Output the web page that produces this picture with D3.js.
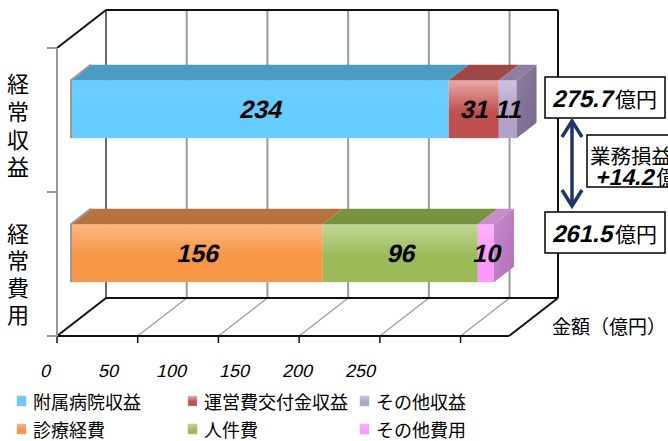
<!DOCTYPE html>
<html>
<head>
<meta charset="utf-8">
<script src="https://cdn.jsdelivr.net/npm/d3@7"></script>
<style>
  html, body { margin: 0; padding: 0; background: #fff; }
  svg { display: block; }
</style>
</head>
<body>
<svg id="chart" width="668" height="441"></svg>
<script>
// ---- data ----
const categories = ["経常収益", "経常費用"];
const revenueSeries = ["附属病院収益", "運営費交付金収益", "その他収益"];
const revenueValues = [234, 31, 11];
const expenseSeries = ["診療経費", "人件費", "その他費用"];
const expenseValues = [156, 96, 10];
const tickValues = [0, 50, 100, 150, 200, 250];
const axisMax = 280;
const totalLabels = ["275.7", "261.5"];
const profitLabel = "+14.2";

// ---- styles ----
const revenuePalette = [
  { light: "#6ACDFF", base: "#66CCFF", top: "#4C9BC3", side: "#3F84A8" },
  { light: "#E9AAA9", base: "#C0504D", top: "#9C4846", side: "#8A3A38" },
  { light: "#CFC2E2", base: "#B3A2C7", top: "#8D7EA2", side: "#76688C" }
];
const expensePalette = [
  { light: "#FBB884", base: "#F79646", top: "#B7733D", side: "#9A5E30" },
  { light: "#C2D897", base: "#9BBB59", top: "#78933F", side: "#627A32" },
  { light: "#FFB3FF", base: "#FF99FF", top: "#C88CCD", side: "#B06EB6" }
];
const numFont = "'Liberation Sans', Arial, sans-serif";
const jpFont = "'Noto Sans CJK JP', 'Noto Sans', sans-serif";

const svg = d3.select("#chart");
const defs = svg.append("defs");

// slanted numeric text (sheared so the slant is always present)
function slanted(parent, px, py, str, size, bold, anchor) {
  return parent.append("text")
    .attr("transform", `translate(${px},${py}) skewX(-13)`)
    .attr("text-anchor", anchor || "middle")
    .attr("font-family", numFont).attr("font-weight", bold ? "bold" : "normal")
    .attr("font-size", size).attr("fill", "#000").text(str);
}

// front plane scales; depth projects up-right
const x = d3.scaleLinear().domain([0, axisMax]).range([57, 509]);
const y = d3.scaleBand().domain(categories).range([48, 336]);
const tickLabelX = d3.scaleLinear().domain([0, 250]).range([45, 360]);
const DX = 49, DY = -38;
const floorY = y.range()[1];
const topY = y.range()[0];
const P = (v, yy, d) => [x(v) + DX * d, yy + DY * d];
const barH = 58;
const d0 = 0.286, d1 = 0.694;

// ---- back wall ----
const wall = svg.append("g");
tickValues.forEach(t => {
  const a = P(t, topY, 1), b = P(t, floorY, 1);
  wall.append("line").attr("x1", a[0]).attr("y1", a[1]).attr("x2", b[0]).attr("y2", b[1])
    .attr("stroke", t === 0 ? "#6a6a6a" : "#9a9a9a").attr("stroke-width", 2);
});
// floor diagonals
tickValues.forEach(t => {
  const a = P(t, floorY, 0), b = P(t, floorY, 1);
  wall.append("line").attr("x1", a[0]).attr("y1", a[1]).attr("x2", b[0]).attr("y2", b[1])
    .attr("stroke", t === 0 ? "#111" : "#a0a0a0").attr("stroke-width", t === 0 ? 2 : 1.5);
  // front tick marks
  wall.append("line").attr("x1", a[0]).attr("y1", a[1]).attr("x2", a[0]).attr("y2", a[1] + 7)
    .attr("stroke", "#111").attr("stroke-width", 1.5);
});
// frame edges
const edges = [
  [P(0, topY, 0), P(0, topY, 1)],
  [P(0, topY, 1), P(axisMax, topY, 1)],
  [P(axisMax, topY, 1), P(axisMax, floorY, 1)],
  [P(0, floorY, 1), P(axisMax, floorY, 1)],
  [P(0, floorY, 0), P(axisMax, floorY, 0)],
  [P(axisMax, floorY, 0), P(axisMax, floorY, 1)]
];
edges.forEach(([a, b]) => {
  wall.append("line").attr("x1", a[0]).attr("y1", a[1]).attr("x2", b[0]).attr("y2", b[1])
    .attr("stroke", "#111").attr("stroke-width", 2);
});
// left category axis
wall.append("line").attr("x1", x(0)).attr("y1", topY).attr("x2", x(0)).attr("y2", floorY)
  .attr("stroke", "#999").attr("stroke-width", 2);
[topY, topY + y.bandwidth(), floorY].forEach(t => {
  wall.append("line").attr("x1", x(0) - 10).attr("y1", t).attr("x2", x(0)).attr("y2", t)
    .attr("stroke", "#999").attr("stroke-width", 2);
});

// ---- gradients ----
function grad(id, c1, c2) {
  const g = defs.append("linearGradient").attr("id", id)
    .attr("x1", 0).attr("y1", 0).attr("x2", 0).attr("y2", 1);
  g.append("stop").attr("offset", "0%").attr("stop-color", c1);
  g.append("stop").attr("offset", "55%").attr("stop-color", c2);
  g.append("stop").attr("offset", "100%").attr("stop-color", c2);
}
function sideGrad(id, c1, c2) {
  const g = defs.append("linearGradient").attr("id", id)
    .attr("x1", 0).attr("y1", 0).attr("x2", 1).attr("y2", 1);
  g.append("stop").attr("offset", "0%").attr("stop-color", c1);
  g.append("stop").attr("offset", "100%").attr("stop-color", c2);
}

// ---- bars ----
function drawBar(cat, values, palette, key) {
  const yt = y(cat) + (y.bandwidth() - barH) / 2;
  const g = svg.append("g");
  let acc = 0;
  const segs = values.map((v, i) => { const s = { v, x0: acc, x1: acc + v, i }; acc += v; return s; });
  segs.forEach(s => {
    const c = palette[s.i];
    grad(`f-${key}-${s.i}`, c.light, c.base);
    const a = P(s.x0, yt, d0), b = P(s.x1, yt, d0);
    g.append("rect").attr("x", a[0]).attr("y", a[1]).attr("width", b[0] - a[0]).attr("height", barH)
      .attr("fill", `url(#f-${key}-${s.i})`);
    const pts = [P(s.x0, yt, d0), P(s.x1, yt, d0), P(s.x1, yt, d1), P(s.x0, yt, d1)];
    g.append("polygon").attr("points", pts.map(p => p.join(",")).join(" ")).attr("fill", c.top);
  });
  // right side face of the last segment
  const last = segs[segs.length - 1];
  const c = palette[last.i];
  sideGrad(`s-${key}`, c.top, c.side);
  const side = [P(last.x1, yt, d0), P(last.x1, yt, d1), P(last.x1, yt + barH, d1), P(last.x1, yt + barH, d0)];
  g.append("polygon").attr("points", side.map(p => p.join(",")).join(" ")).attr("fill", `url(#s-${key})`);
  // soft left edge shade
  const l0 = P(0, yt, d0), l1 = P(0, yt, d1);
  g.append("path").attr("d", `M${l0[0]},${l0[1] + barH} L${l0[0]},${l0[1]} L${l1[0]},${l1[1]}`)
    .attr("fill", "none").attr("stroke", "#9a9a9a").attr("stroke-width", 2);
  // value labels centred on front faces
  segs.forEach(s => {
    const a = P((s.x0 + s.x1) / 2, yt, d0);
    slanted(g, a[0], a[1] + barH / 2 + 9, s.v, 25, true);
  });
}
drawBar(categories[0], revenueValues, revenuePalette, "r");
drawBar(categories[1], expenseValues, expensePalette, "e");

// ---- axis tick labels ----
const tickG = svg.append("g");
tickValues.forEach(t => slanted(tickG, tickLabelX(t), 377, t, 18, false));

// ---- category labels (vertical) ----
const catLabelY = [[82, 110, 138, 165], [232, 259, 286, 313]];
categories.forEach((c, ci) => {
  Array.from(c).forEach((ch, k) => {
    svg.append("text").attr("x", 18).attr("y", catLabelY[ci][k])
      .attr("text-anchor", "middle").attr("dominant-baseline", "central")
      .attr("font-family", jpFont).attr("font-size", 22).attr("fill", "#000").text(ch);
  });
});

// ---- unit label ----
svg.append("text").attr("x", 552).attr("y", 325).attr("dominant-baseline", "central")
  .attr("font-family", jpFont).attr("font-size", 19)
  .attr("fill", "#000").text("金額（億円）");

// ---- totals and profit annotation ----
function numberWithUnit(px, py, label, numSize, unitSize) {
  const t = slanted(svg, px, py, label, numSize, true, "start");
  const w = t.node().getComputedTextLength();
  svg.append("text").attr("x", px + w + 3).attr("y", py)
    .attr("font-family", jpFont).attr("font-size", unitSize).attr("fill", "#000").text("億円");
}
function totalBox(yTop, label) {
  svg.append("rect").attr("x", 545).attr("y", yTop).attr("width", 120).attr("height", 41)
    .attr("fill", "#fff").attr("stroke", "#000").attr("stroke-width", 1.5);
  numberWithUnit(552, yTop + 30, label, 24, 21);
}
totalBox(77, totalLabels[0]);
totalBox(212, totalLabels[1]);

// double-headed arrow
const navy = "#1F3468";
const ax = 572, ay0 = 121, ay1 = 206;
svg.append("line").attr("x1", ax).attr("y1", ay0 + 2).attr("x2", ax).attr("y2", ay1 - 2)
  .attr("stroke", navy).attr("stroke-width", 3.5);
svg.append("path").attr("d", `M${ax - 10},${ay0 + 16} L${ax},${ay0} L${ax + 10},${ay0 + 16}`)
  .attr("fill", "none").attr("stroke", navy).attr("stroke-width", 3.5);
svg.append("path").attr("d", `M${ax - 10},${ay1 - 16} L${ax},${ay1} L${ax + 10},${ay1 - 16}`)
  .attr("fill", "none").attr("stroke", navy).attr("stroke-width", 3.5);

svg.append("rect").attr("x", 587).attr("y", 135).attr("width", 110).attr("height", 52)
  .attr("fill", "#fff").attr("stroke", "#000").attr("stroke-width", 1.5);
svg.append("text").attr("x", 590).attr("y", 164).attr("font-family", jpFont).attr("font-size", 20.5)
  .attr("fill", "#000").text("業務損益");
numberWithUnit(595, 185, profitLabel, 23, 21);

// ---- legend ----
const legendItems = [
  { name: revenueSeries[0], c: revenuePalette[0], col: 0, row: 0 },
  { name: revenueSeries[1], c: revenuePalette[1], col: 1, row: 0 },
  { name: revenueSeries[2], c: revenuePalette[2], col: 2, row: 0 },
  { name: expenseSeries[0], c: expensePalette[0], col: 0, row: 1 },
  { name: expenseSeries[1], c: expensePalette[1], col: 1, row: 1 },
  { name: expenseSeries[2], c: expensePalette[2], col: 2, row: 1 }
];
const colX = [17, 188, 360];
const rowY = [401, 429];
legendItems.forEach((it, i) => {
  grad(`lg-${i}`, it.c.light, it.c.base);
  svg.append("rect").attr("x", colX[it.col]).attr("y", rowY[it.row] - 5).attr("width", 9).attr("height", 10)
    .attr("fill", `url(#lg-${i})`).attr("stroke", "#bbb").attr("stroke-width", 0.5);
  svg.append("text").attr("x", colX[it.col] + 16).attr("y", rowY[it.row])
    .attr("dominant-baseline", "central").attr("font-family", jpFont).attr("font-size", 18)
    .attr("fill", "#000").text(it.name);
});
</script>
</body>
</html>
